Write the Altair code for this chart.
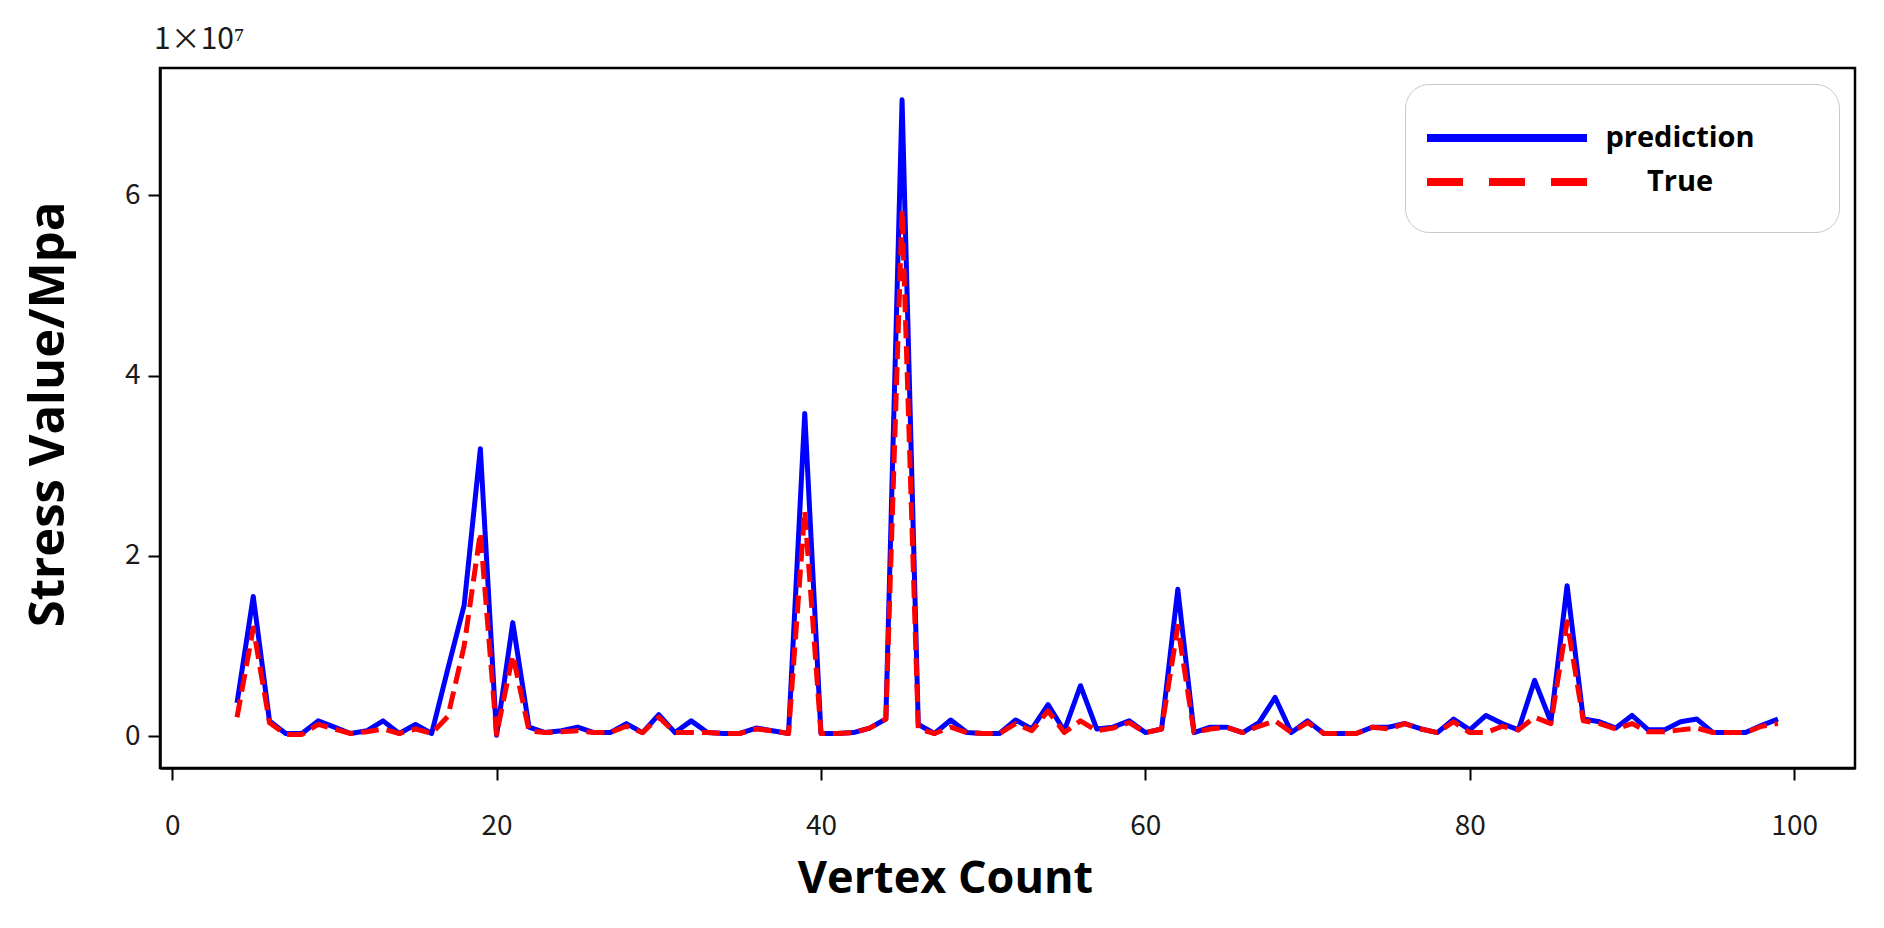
import altair as alt
import pandas as pd

# Vertex count (x) and stress values in units of 1e7 Mpa
vertex = list(range(4, 100))

prediction = [
    0.37, 1.55, 0.17, 0.03, 0.03, 0.17, 0.10, 0.03, 0.06, 0.17,
    0.03, 0.13, 0.03, 0.75, 1.45, 3.19, 0.01, 1.26, 0.10, 0.04,
    0.06, 0.10, 0.04, 0.04, 0.14, 0.04, 0.24, 0.04, 0.17, 0.04,
    0.03, 0.03, 0.09, 0.06, 0.03, 3.58, 0.03, 0.03, 0.04, 0.09,
    0.19, 7.06, 0.13, 0.03, 0.18, 0.04, 0.03, 0.03, 0.18, 0.08,
    0.35, 0.06, 0.56, 0.08, 0.10, 0.17, 0.04, 0.08, 1.63, 0.04,
    0.10, 0.10, 0.04, 0.15, 0.43, 0.04, 0.17, 0.03, 0.03, 0.03,
    0.10, 0.10, 0.14, 0.08, 0.04, 0.19, 0.07, 0.23, 0.14, 0.07,
    0.62, 0.16, 1.67, 0.19, 0.16, 0.09, 0.23, 0.07, 0.07, 0.16,
    0.19, 0.04, 0.04, 0.04, 0.12, 0.19,
]

true_vals = [
    0.21, 1.20, 0.15, 0.02, 0.02, 0.13, 0.08, 0.03, 0.05, 0.08,
    0.03, 0.08, 0.03, 0.22, 1.00, 2.26, 0.02, 0.90, 0.06, 0.04,
    0.05, 0.06, 0.04, 0.04, 0.11, 0.04, 0.21, 0.04, 0.04, 0.04,
    0.03, 0.03, 0.08, 0.06, 0.03, 2.50, 0.03, 0.03, 0.04, 0.09,
    0.19, 5.84, 0.08, 0.03, 0.10, 0.04, 0.03, 0.03, 0.14, 0.06,
    0.28, 0.04, 0.17, 0.06, 0.09, 0.15, 0.04, 0.08, 1.22, 0.04,
    0.08, 0.10, 0.04, 0.11, 0.17, 0.04, 0.15, 0.03, 0.03, 0.03,
    0.10, 0.08, 0.14, 0.08, 0.04, 0.16, 0.04, 0.04, 0.11, 0.07,
    0.21, 0.14, 1.27, 0.17, 0.14, 0.08, 0.14, 0.05, 0.05, 0.07,
    0.09, 0.04, 0.04, 0.04, 0.11, 0.14,
]

series_names = ["prediction", "True"]
series_colors = ["#0000ff", "#ff0000"]
x_ticks = [0, 20, 40, 60, 80, 100]
y_ticks = [0, 2e7, 4e7, 6e7]

df = pd.concat([
    pd.DataFrame({"vertex": vertex, "stress": [v * 1e7 for v in prediction], "series": "prediction"}),
    pd.DataFrame({"vertex": vertex, "stress": [v * 1e7 for v in true_vals], "series": "True"}),
])

W, H = 1695, 700
TICK_FONT = "Noto Sans CJK SC"
TITLE_FONT = "Open Sans"

x_enc = alt.X(
    "vertex:Q",
    scale=alt.Scale(domain=[-0.75, 103.75], nice=False, zero=False),
    axis=alt.Axis(
        values=x_ticks, title="Vertex Count", grid=False,
        titleX=785, titleY=110, titleAlign="center", titleBaseline="middle",
        titleFont=TITLE_FONT, titleFontSize=45, titleFontWeight="bold", titleColor="black",
        labelFont=TICK_FONT, labelFontSize=28, labelColor="#1a1a1a", labelPadding=32,
        tickSize=12, tickWidth=2, tickColor="black", domainColor="black", domainWidth=2.5,
    ),
)
y_enc = alt.Y(
    "stress:Q",
    scale=alt.Scale(domain=[-0.353e7, 7.413e7], nice=False, zero=False),
    axis=alt.Axis(
        values=y_ticks, labelExpr="format(datum.value / 1e7, 'd')",
        title="Stress Value/Mpa", grid=False,
        titleX=-112, titleY=346, titleAngle=270, titleAlign="center", titleBaseline="middle",
        titleFont=TITLE_FONT, titleFontSize=49, titleFontWeight="bold", titleColor="black",
        labelFont=TICK_FONT, labelFontSize=28, labelColor="#1a1a1a", labelPadding=8,
        tickSize=12, tickWidth=2, tickColor="black", domainColor="black", domainWidth=2.5,
    ),
)
color_enc = alt.Color(
    "series:N",
    scale=alt.Scale(domain=series_names, range=series_colors),
    legend=alt.Legend(
        title=None, orient="none", legendX=1245, legendY=16,
        symbolType="M-5,0L5,0M17.6,0", symbolSize=1024, symbolStrokeWidth=8,
        symbolOffset=48, labelOffset=153, labelAlign="center", padding=34, rowPadding=8,
        labelFont=TITLE_FONT, labelFontSize=29, labelFontWeight="bold", labelColor="black",
        cornerRadius=24, strokeColor="#c8c8c8", fillColor="white",
    ),
)
# dash pattern shown in the legend (longer, as in the reference legend)
legend_dash = alt.StrokeDash(
    "series:N",
    scale=alt.Scale(domain=series_names, range=[[1, 0], [36, 26]]),
    legend=None,
)

base = alt.Chart(df).encode(x=x_enc, y=y_enc, color=color_enc)

pred_line = base.transform_filter(alt.datum.series == "prediction").mark_line(
    strokeWidth=5, strokeJoin="round", strokeCap="butt"
)
true_line = base.transform_filter(alt.datum.series == "True").mark_line(
    strokeWidth=5, strokeJoin="round", strokeCap="butt", strokeDash=[18, 8]
)
legend_layer = base.encode(strokeDash=legend_dash).transform_filter("false").mark_line(
    strokeWidth=5
)

exponent = alt.Chart(pd.DataFrame({"t": ["1×10⁷"]})).mark_text(
    font=TICK_FONT, fontSize=30, align="left", baseline="middle", color="#1a1a1a"
).encode(text="t:N", x=alt.value(-6), y=alt.value(-28))

chart = alt.layer(pred_line, true_line, legend_layer, exponent).properties(
    width=W, height=H,
    autosize=alt.AutoSizeParams(type="none"),
    padding={"left": 152, "top": 60, "right": 15, "bottom": 140},
).configure(background="white").configure_view(stroke="black", strokeWidth=2.5)

chart.save("out.html", embed_options={"renderer": "svg", "actions": False})
